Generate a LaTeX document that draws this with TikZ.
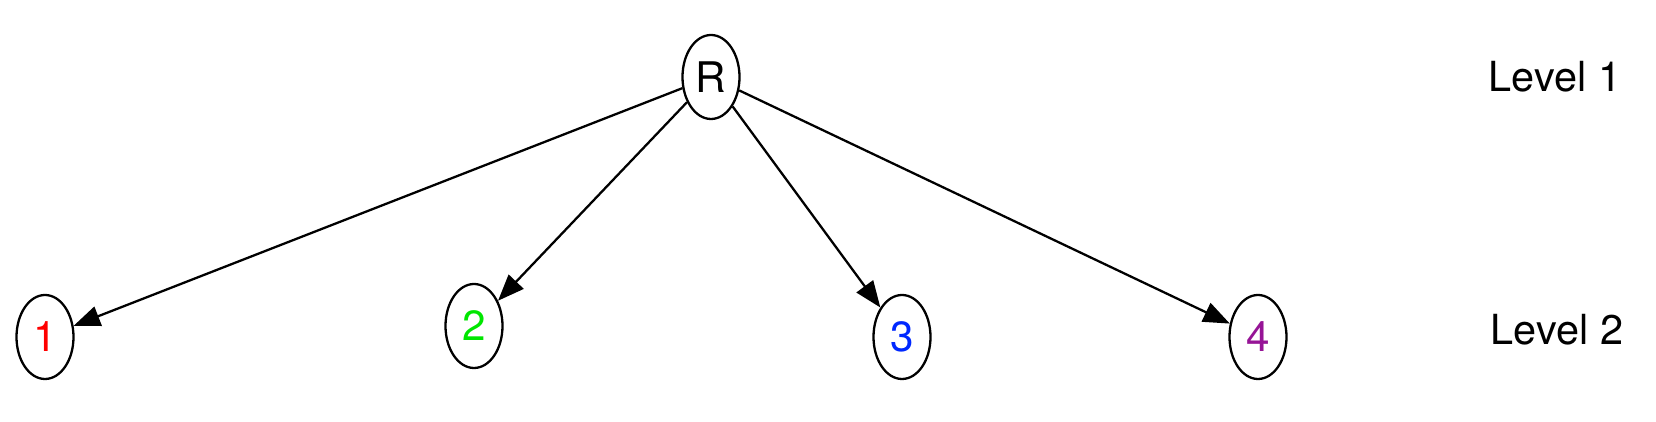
\documentclass[tikz,border=0pt]{standalone}
\usepackage{xcolor}
\usepackage{fontspec}
\setmainfont{TeX Gyre Heros}
\usepackage{tikz}
\usetikzlibrary{
	               	shapes.geometric,
	                arrows.meta
					}
\definecolor{knotred}{RGB}{255,0,0}
\definecolor{knotgreen}{RGB}{0,230,0}
\definecolor{knotblue}{RGB}{0,40,255}
\definecolor{knotpurple}{RGB}{150,20,150}

\begin{document}
\begin{tikzpicture}[
	knot/.style={draw, ellipse, line width=0.65pt, minimum width=0.57cm, minimum height=0.84cm, inner sep=0pt, font=\fontsize{12}{14}\selectfont},
	kante/.style={line width=0.65pt, -{Triangle[length=7.5pt, width=5.8pt]}},
	ebene/.style={font=\fontsize{11.8}{14}\selectfont}
	]
	\useasboundingbox (0,0) rectangle (16.56,4.22);
	\node[knot] (R) at (7.11,3.45) {R};
	\node[knot, text=knotred] (k1) at (0.45,0.85) {1};
	\node[knot, text=knotgreen] (k2) at (4.74,0.96) {2};
	\node[knot, text=knotblue] (k3) at (9.02,0.85) {3};
	\node[knot, text=knotpurple] (k4) at (12.58,0.85) {4};
	\draw[kante] (R) -- (k1);
	\draw[kante] (R) -- (k2);
	\draw[kante] (R) -- (k3);
	\draw[kante] (R) -- (k4);
	\node[ebene] (l1) at (15.55,3.45) {Level 1};
	\node[ebene] (l2) at (15.57,0.92) {Level 2};
\end{tikzpicture}
\end{document}
